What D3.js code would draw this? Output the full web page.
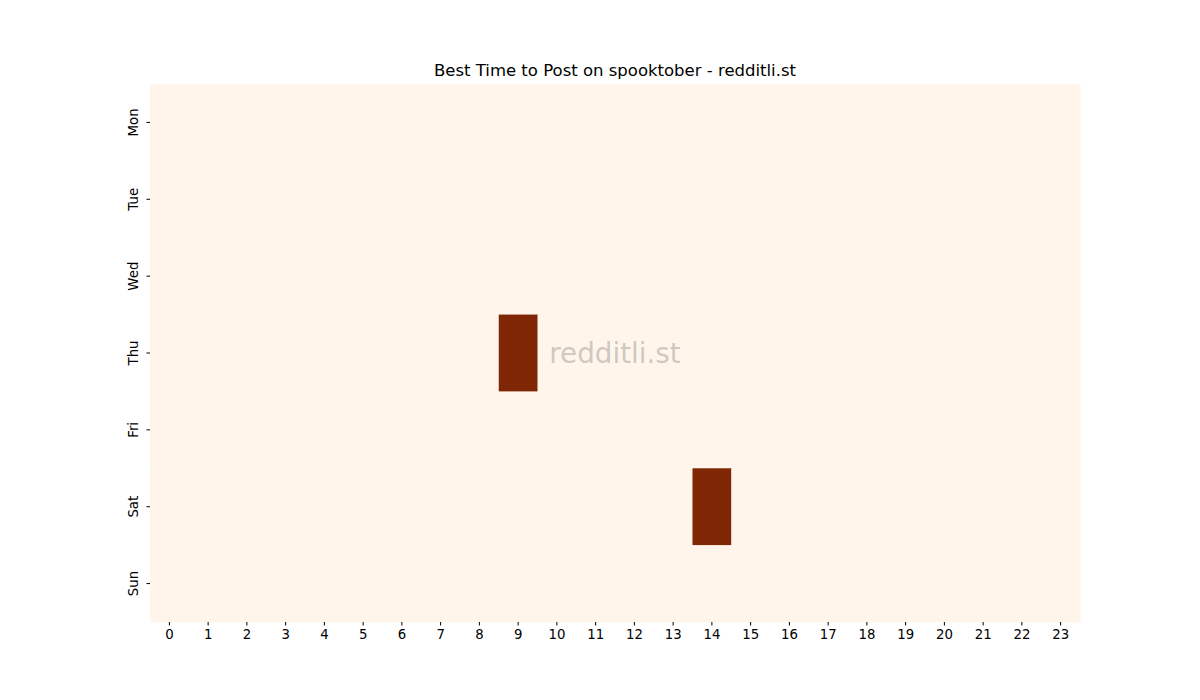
<script src="https://d3js.org/d3.v7.min.js"></script>
<style>
  body { margin: 0; background: #fff; }
  text { font-family: "DejaVu Sans", sans-serif; }
</style>
<svg id="vis"></svg>
<script>
// data
var days = ["Mon", "Tue", "Wed", "Thu", "Fri", "Sat", "Sun"];
var hours = d3.range(24).map(String);
// one row per day, one value per hour
var mon = [0,0,0,0,0,0,0,0,0,0,0,0,0,0,0,0,0,0,0,0,0,0,0,0];
var tue = [0,0,0,0,0,0,0,0,0,0,0,0,0,0,0,0,0,0,0,0,0,0,0,0];
var wed = [0,0,0,0,0,0,0,0,0,0,0,0,0,0,0,0,0,0,0,0,0,0,0,0];
var thu = [0,0,0,0,0,0,0,0,0,1,0,0,0,0,0,0,0,0,0,0,0,0,0,0];
var fri = [0,0,0,0,0,0,0,0,0,0,0,0,0,0,0,0,0,0,0,0,0,0,0,0];
var sat = [0,0,0,0,0,0,0,0,0,0,0,0,0,0,1,0,0,0,0,0,0,0,0,0];
var sun = [0,0,0,0,0,0,0,0,0,0,0,0,0,0,0,0,0,0,0,0,0,0,0,0];
var rows = [mon, tue, wed, thu, fri, sat, sun];

var W = 1200, H = 700;
// plot box (don't call these top/left, window.top is read-only)
var pLeft = 150, pTop = 84, pRight = 1080, pBottom = 622;

var svg = d3.select("#vis").attr("width", W).attr("height", H);

// flatten into cells
var cells = [];
rows.forEach(function(r, i) {
  r.forEach(function(v, j) { cells.push({day: days[i], hour: hours[j], v: v}); });
});

var x = d3.scaleBand().domain(hours).range([pLeft, pRight]);
var y = d3.scaleBand().domain(days).range([pTop, pBottom]);
var color = d3.scaleSequential(d3.interpolateOranges)
  .domain([0, d3.max(cells, function(d) { return d.v; })]);

svg.append("g").selectAll("rect")
  .data(cells)
  .join("rect")
  .attr("x", function(d) { return x(d.hour); })
  .attr("y", function(d) { return y(d.day); })
  .attr("width", x.bandwidth() + 0.5)
  .attr("height", y.bandwidth() + 0.5)
  .attr("fill", function(d) { return color(d.v); });

// axes, no domain line like seaborn
var xAx = svg.append("g")
  .attr("transform", "translate(0," + pBottom + ")")
  .call(d3.axisBottom(x).tickSize(3.5).tickPadding(4));
xAx.select(".domain").remove();
xAx.selectAll("text").attr("font-size", 13.3).attr("fill", "#000")
  .attr("font-family", "DejaVu Sans");

var yAx = svg.append("g")
  .attr("transform", "translate(" + pLeft + ",0)")
  .call(d3.axisLeft(y).tickSize(3.5).tickPadding(4));
yAx.select(".domain").remove();
// rotated day labels
yAx.selectAll(".tick text")
  .attr("font-size", 13.3).attr("fill", "#000").attr("font-family", "DejaVu Sans")
  .attr("x", 0).attr("y", -12).attr("dy", 0)
  .attr("transform", "rotate(-90)")
  .attr("text-anchor", "middle");

// title
svg.append("text")
  .attr("x", (pLeft + pRight) / 2)
  .attr("y", 76)
  .attr("text-anchor", "middle")
  .attr("font-size", 16.5)
  .text("Best Time to Post on spooktober - redditli.st");

// watermark
svg.append("text")
  .attr("x", (pLeft + pRight) / 2)
  .attr("y", (pTop + pBottom) / 2)
  .attr("text-anchor", "middle")
  .attr("dominant-baseline", "central")
  .attr("font-size", 27.8)
  .attr("fill", "#808080")
  .attr("fill-opacity", 0.4)
  .text("redditli.st");
</script>
